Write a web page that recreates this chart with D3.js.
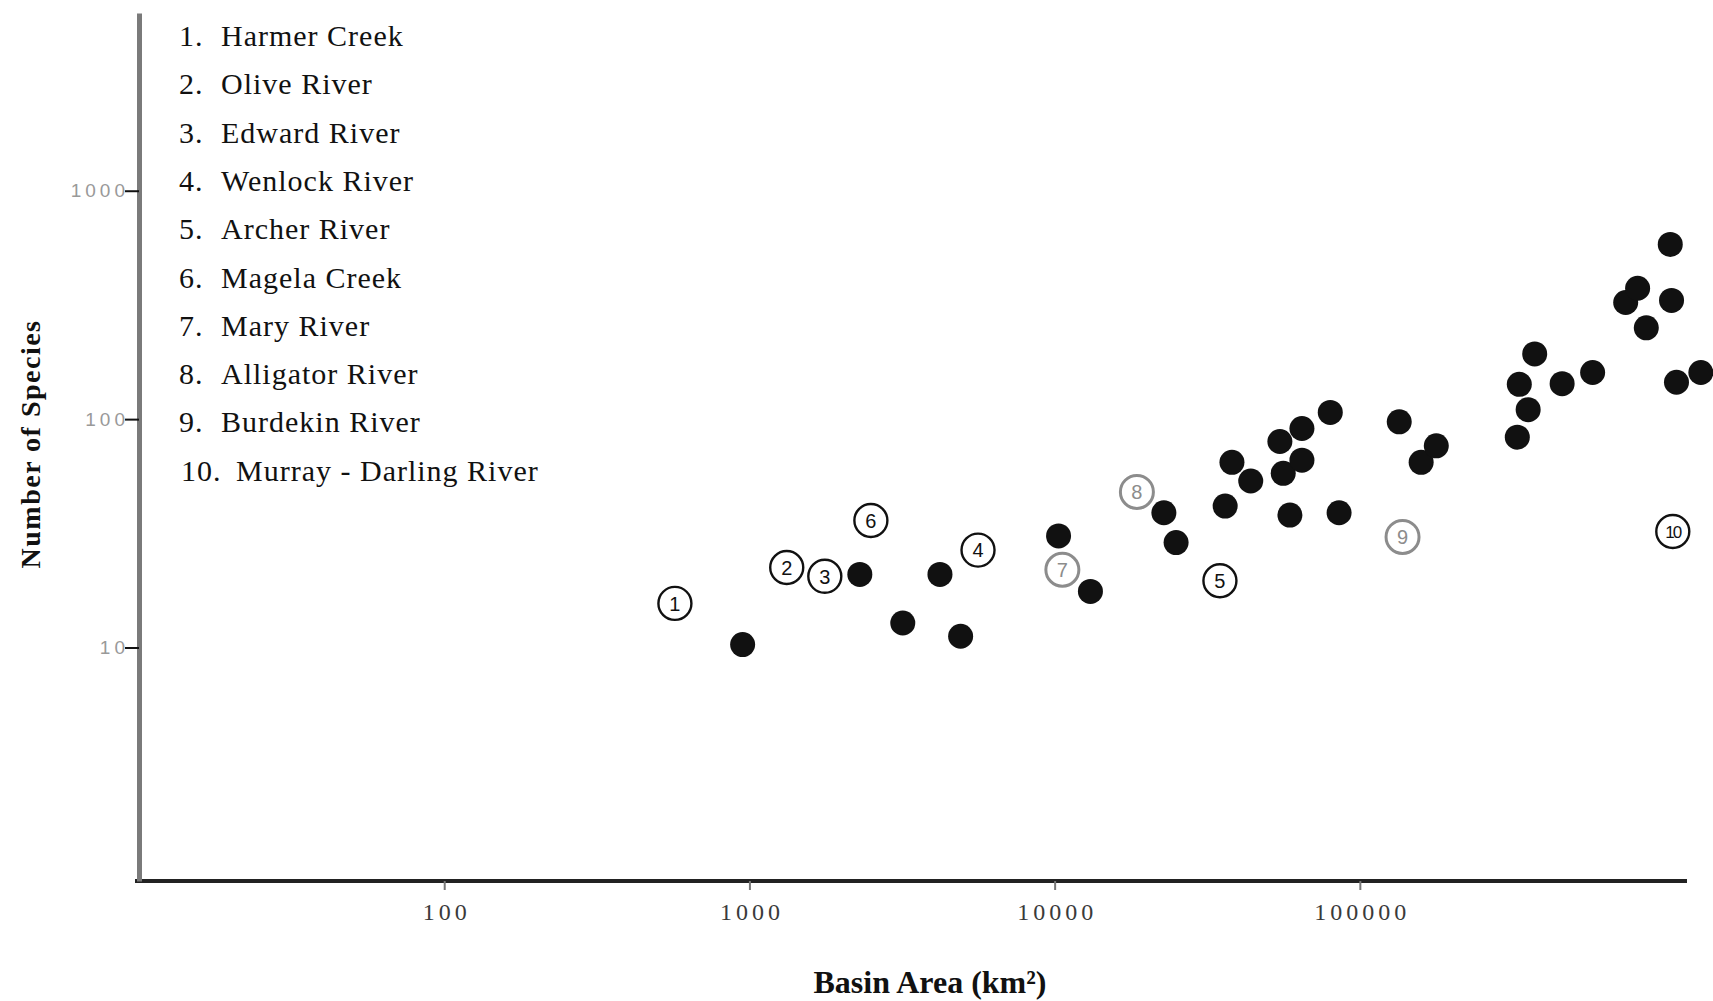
<!DOCTYPE html>
<html>
<head>
<meta charset="utf-8">
<script src="https://cdn.jsdelivr.net/npm/d3@7"></script>
<style>
  body { margin: 0; background: #fff; }
  svg { display: block; }
</style>
</head>
<body>
<svg id="chart" width="1713" height="1001"></svg>
<script>
// basin area (km2) and number of species for every catchment (filled dots)
const basinArea = [950, 2300, 3180, 4210, 4920, 10300, 13100, 22800, 25000, 36200,
    38100, 43900, 54700, 56100, 64600, 64600, 59000, 80000, 85500, 134600,
    158800, 178000, 328000, 333000, 356000, 374000, 460000, 579000, 743000, 813000,
    868000, 1040000, 1050000, 1090000, 1310000];
const speciesCount = [10.3, 20.9, 12.8, 20.9, 11.2, 30.8, 17.6, 38.9, 28.8, 41.6,
    64.7, 53.6, 79.8, 57.9, 91.0, 66.1, 38.0, 107, 38.9, 97.3,
    64.7, 76.4, 83.4, 142, 110, 193, 143, 160, 324, 374,
    251, 582, 331, 145, 160];

// numbered rivers (open circles)
const riverNames = ["Harmer Creek", "Olive River", "Edward River", "Wenlock River",
    "Archer River", "Magela Creek", "Mary River", "Alligator River",
    "Burdekin River", "Murray - Darling River"];
const riverArea = [570, 1325, 1766, 5610, 34800, 2500, 10600, 18600, 138000, 1060000];
const riverSpecies = [15.6, 22.4, 20.5, 26.7, 19.6, 36.0, 21.9, 48.0, 30.5, 32.2];

const xTicks = [100, 1000, 10000, 100000];
const yTicks = [10, 100, 1000];

const svg = d3.select("#chart");

// log scales for both axes
const x = d3.scaleLog()
    .domain([10, 1180000])
    .range([139, 1687]);
const y = d3.scaleLog()
    .domain([0.95, 6000])
    .range([881, 13]);

// X axis
const xAxis = svg.append("g")
    .attr("transform", `translate(0,${y.range()[0]})`)
    .call(d3.axisBottom(x).tickValues(xTicks).tickFormat(d3.format("d")).tickSize(9).tickSizeOuter(0));
xAxis.select(".domain")
    .attr("stroke", "#222")
    .attr("stroke-width", 4)
    .attr("d", `M135,0H${x.range()[1]}`);
xAxis.selectAll(".tick line").attr("stroke", "#777").attr("stroke-width", 2);
xAxis.selectAll(".tick text")
    .attr("y", 22)
    .attr("x", 2)
    .attr("fill", "#3a3a3a")
    .style("font-family", "Liberation Serif")
    .style("font-size", "24px")
    .style("letter-spacing", "4px");

// Y axis
const yAxis = svg.append("g")
    .attr("transform", `translate(${x.range()[0]},0)`)
    .call(d3.axisLeft(y).tickValues(yTicks).tickFormat(d3.format("d")).tickSize(14).tickSizeOuter(0));
yAxis.select(".domain")
    .attr("stroke", "#7a7a7a")
    .attr("stroke-width", 5);
yAxis.selectAll(".tick line").attr("stroke", "#111").attr("stroke-width", 2);
yAxis.selectAll(".tick text")
    .attr("x", -10)
    .attr("fill", "#999")
    .style("font-family", "Liberation Sans")
    .style("font-size", "19px")
    .style("letter-spacing", "4px");

// axis titles
svg.append("text")
    .attr("x", 930)
    .attr("y", 993)
    .attr("text-anchor", "middle")
    .style("font-family", "Liberation Serif")
    .style("font-weight", "bold")
    .style("font-size", "32px")
    .attr("fill", "#111")
    .text("Basin Area (km²)");

svg.append("text")
    .attr("transform", "translate(40,444) rotate(-90)")
    .attr("text-anchor", "middle")
    .style("font-family", "Liberation Serif")
    .style("font-weight", "bold")
    .style("font-size", "28px")
    .style("letter-spacing", "1.5px")
    .attr("fill", "#111")
    .text("Number of Species");

// filled dots
svg.append("g")
    .selectAll("circle")
    .data(basinArea.map((a, i) => ({ area: a, species: speciesCount[i] })))
    .join("circle")
    .attr("cx", d => x(d.area))
    .attr("cy", d => y(d.species))
    .attr("r", 12.5)
    .attr("fill", "#111");

// numbered open circles
const faded = new Set([7, 8, 9]);
const rivers = riverNames.map((n, i) => ({ id: i + 1, name: n, area: riverArea[i], species: riverSpecies[i] }));
const marks = svg.append("g")
    .selectAll("g")
    .data(rivers)
    .join("g")
    .attr("transform", d => `translate(${x(d.area)},${y(d.species)})`);
marks.append("circle")
    .attr("r", 16.5)
    .attr("fill", "#fff")
    .attr("stroke", d => faded.has(d.id) ? "#8c8c8c" : "#111")
    .attr("stroke-width", d => faded.has(d.id) ? 3 : 2.4);
marks.append("text")
    .attr("text-anchor", "middle")
    .attr("dy", "0.36em")
    .attr("fill", d => faded.has(d.id) ? "#8c8c8c" : "#111")
    .style("font-family", "Liberation Sans")
    .style("font-size", d => d.id === 10 ? "17px" : "20px")
    .style("letter-spacing", d => d.id === 10 ? "-2px" : "0px")
    .text(d => d.id);

// legend list
const legend = svg.append("g")
    .selectAll("g")
    .data(rivers)
    .join("g")
    .attr("transform", (d, i) => `translate(0,${46 + i * 48.3})`)
    .style("font-family", "Liberation Serif")
    .style("font-size", "30px")
    .style("letter-spacing", "1px")
    .attr("fill", "#111");
legend.append("text")
    .attr("x", d => d.id === 10 ? 181 : 179)
    .text(d => d.id + ".");
legend.append("text")
    .attr("x", d => d.id === 10 ? 236 : 221)
    .text(d => d.name);
</script>
</body>
</html>
